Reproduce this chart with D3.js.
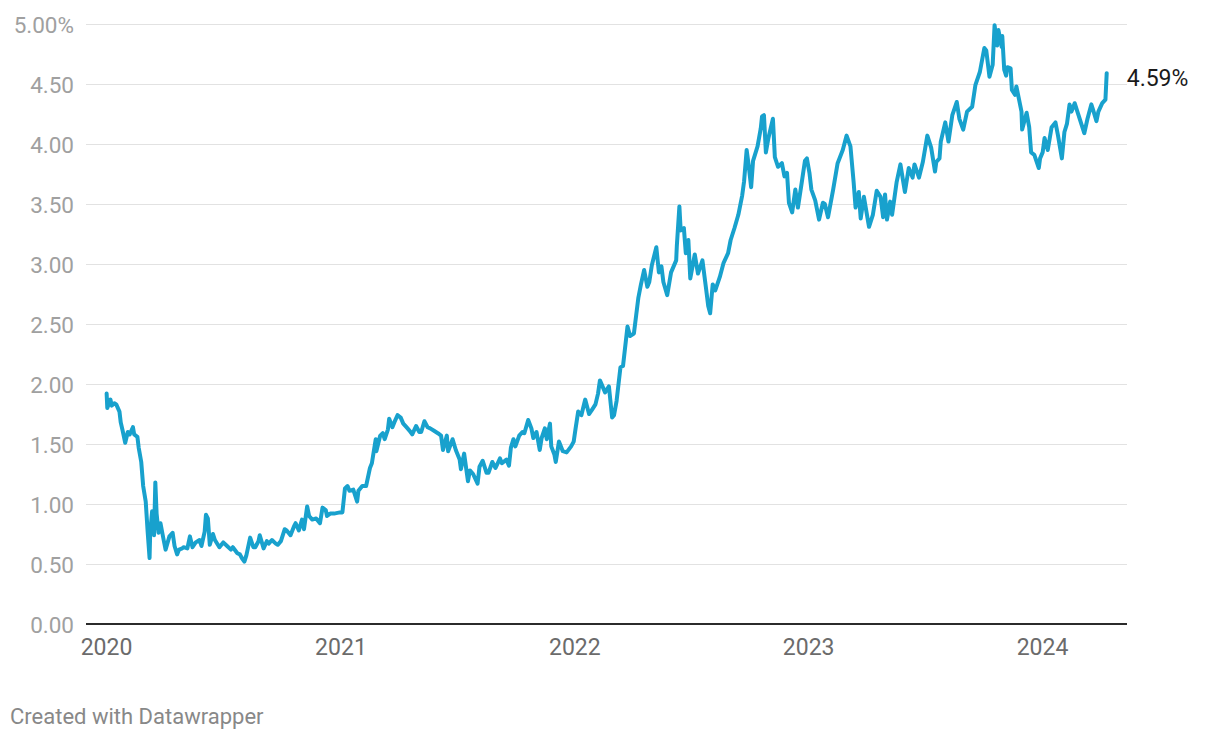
<!DOCTYPE html>
<html><head><meta charset="utf-8">
<script src="https://cdn.jsdelivr.net/npm/d3@7"></script>
<style>
html,body{margin:0;padding:0;background:#fff;}
svg{display:block;font-family:Roboto,"Noto Sans",sans-serif;}
</style></head>
<body><svg id="chart" width="1220" height="740"></svg>
<script>
const dates = [
"2020-01-02","2020-01-03","2020-01-08","2020-01-10","2020-01-14","2020-01-17","2020-01-22","2020-01-24","2020-01-27","2020-01-31",
"2020-02-04","2020-02-07","2020-02-12","2020-02-14","2020-02-19","2020-02-21","2020-02-25","2020-02-28","2020-03-03","2020-03-06",
"2020-03-09","2020-03-10","2020-03-13","2020-03-16","2020-03-18","2020-03-20","2020-03-23","2020-03-26","2020-03-31","2020-04-03",
"2020-04-09","2020-04-14","2020-04-17","2020-04-21","2020-04-24","2020-04-29","2020-05-01","2020-05-07","2020-05-11","2020-05-15",
"2020-05-20","2020-05-26","2020-05-29","2020-06-03","2020-06-05","2020-06-08","2020-06-11","2020-06-16","2020-06-19","2020-06-26",
"2020-07-02","2020-07-08","2020-07-14","2020-07-17","2020-07-24","2020-07-28","2020-07-31","2020-08-04","2020-08-07","2020-08-13",
"2020-08-18","2020-08-21","2020-08-26","2020-08-28","2020-09-03","2020-09-08","2020-09-11","2020-09-16","2020-09-22","2020-09-25",
"2020-09-30","2020-10-06","2020-10-09","2020-10-15","2020-10-21","2020-10-23","2020-10-28","2020-11-02","2020-11-05","2020-11-10",
"2020-11-13","2020-11-18","2020-11-24","2020-11-30","2020-12-04","2020-12-09","2020-12-11","2020-12-16","2020-12-22","2020-12-31",
"2021-01-04","2021-01-08","2021-01-12","2021-01-15","2021-01-21","2021-01-27","2021-01-29","2021-02-04","2021-02-10","2021-02-16",
"2021-02-19","2021-02-25","2021-02-26","2021-03-04","2021-03-08","2021-03-11","2021-03-16","2021-03-18","2021-03-23","2021-03-26",
"2021-03-31","2021-04-05","2021-04-09","2021-04-14","2021-04-19","2021-04-23","2021-04-29","2021-05-04","2021-05-07","2021-05-12",
"2021-05-17","2021-05-21","2021-05-27","2021-06-02","2021-06-07","2021-06-10","2021-06-16","2021-06-18","2021-06-25","2021-06-30",
"2021-07-06","2021-07-08","2021-07-13","2021-07-19","2021-07-22","2021-07-27","2021-08-03","2021-08-06","2021-08-11","2021-08-17",
"2021-08-20","2021-08-26","2021-08-31","2021-09-07","2021-09-10","2021-09-17","2021-09-21","2021-09-24","2021-09-28","2021-10-01",
"2021-10-07","2021-10-12","2021-10-15","2021-10-21","2021-10-26","2021-10-29","2021-11-03","2021-11-08","2021-11-11","2021-11-16",
"2021-11-19","2021-11-24","2021-11-26","2021-12-01","2021-12-03","2021-12-08","2021-12-14","2021-12-20","2021-12-27","2021-12-31",
"2022-01-03","2022-01-07","2022-01-12","2022-01-18","2022-01-24","2022-01-28","2022-02-03","2022-02-07","2022-02-10","2022-02-14",
"2022-02-18","2022-02-24","2022-03-01","2022-03-04","2022-03-08","2022-03-14","2022-03-18","2022-03-25","2022-03-29","2022-04-04",
"2022-04-11","2022-04-15","2022-04-20","2022-04-25","2022-04-28","2022-05-02","2022-05-09","2022-05-13","2022-05-17","2022-05-20",
"2022-05-26","2022-06-01","2022-06-09","2022-06-10","2022-06-14","2022-06-16","2022-06-21","2022-06-24","2022-06-28","2022-07-01",
"2022-07-08","2022-07-13","2022-07-20","2022-07-26","2022-07-29","2022-08-01","2022-08-05","2022-08-09","2022-08-16","2022-08-22",
"2022-08-29","2022-09-02","2022-09-08","2022-09-14","2022-09-20","2022-09-23","2022-09-27","2022-09-30","2022-10-04","2022-10-07",
"2022-10-14","2022-10-19","2022-10-21","2022-10-24","2022-10-27","2022-10-31","2022-11-03","2022-11-07","2022-11-10","2022-11-15",
"2022-11-21","2022-11-25","2022-11-29","2022-12-02","2022-12-07","2022-12-12","2022-12-16","2022-12-22","2022-12-27","2022-12-30",
"2023-01-03","2023-01-06","2023-01-12","2023-01-18","2023-01-24","2023-01-27","2023-02-01","2023-02-09","2023-02-16","2023-02-24",
"2023-03-02","2023-03-08","2023-03-13","2023-03-16","2023-03-21","2023-03-24","2023-03-29","2023-04-06","2023-04-12","2023-04-18",
"2023-04-24","2023-04-28","2023-05-01","2023-05-04","2023-05-09","2023-05-12","2023-05-19","2023-05-25","2023-06-01","2023-06-07",
"2023-06-13","2023-06-16","2023-06-23","2023-06-29","2023-07-06","2023-07-12","2023-07-18","2023-07-20","2023-07-25","2023-07-27",
"2023-08-03","2023-08-08","2023-08-14","2023-08-21","2023-08-25","2023-08-31","2023-09-06","2023-09-14","2023-09-19","2023-09-26",
"2023-10-03","2023-10-06","2023-10-11","2023-10-16","2023-10-19","2023-10-23","2023-10-25","2023-10-30","2023-10-31","2023-11-03",
"2023-11-06","2023-11-08","2023-11-13","2023-11-15","2023-11-20","2023-11-22","2023-11-30","2023-12-01","2023-12-08","2023-12-12",
"2023-12-15","2023-12-20","2023-12-27","2023-12-29",
"2024-01-02","2024-01-05","2024-01-10","2024-01-16","2024-01-22","2024-01-26","2024-02-01","2024-02-05","2024-02-09","2024-02-13",
"2024-02-16","2024-02-21","2024-02-27","2024-03-07","2024-03-12","2024-03-18","2024-03-21","2024-03-26","2024-03-29","2024-04-04",
"2024-04-09","2024-04-11"
];
const yields = [
1.92,1.80,1.87,1.82,1.84,1.83,1.77,1.68,1.61,1.51,
1.60,1.58,1.64,1.58,1.56,1.47,1.35,1.15,1.02,0.77,
0.55,0.76,0.94,0.74,1.18,0.92,0.76,0.84,0.70,0.62,
0.73,0.76,0.65,0.58,0.62,0.63,0.64,0.63,0.73,0.64,
0.68,0.70,0.65,0.77,0.91,0.88,0.66,0.75,0.70,0.64,
0.68,0.65,0.62,0.64,0.59,0.58,0.55,0.52,0.57,0.72,
0.64,0.64,0.69,0.74,0.63,0.69,0.67,0.70,0.67,0.66,
0.69,0.79,0.78,0.74,0.82,0.84,0.78,0.87,0.79,0.98,
0.90,0.87,0.88,0.84,0.97,0.95,0.90,0.92,0.92,0.93,
0.93,1.13,1.15,1.11,1.12,1.02,1.11,1.15,1.15,1.30,
1.34,1.54,1.44,1.57,1.59,1.54,1.62,1.71,1.64,1.68,
1.74,1.72,1.67,1.64,1.61,1.58,1.65,1.60,1.60,1.69,
1.64,1.63,1.61,1.59,1.57,1.45,1.57,1.44,1.54,1.45,
1.37,1.29,1.42,1.19,1.28,1.25,1.17,1.31,1.36,1.26,
1.26,1.35,1.30,1.38,1.34,1.37,1.32,1.47,1.54,1.48,
1.57,1.60,1.59,1.70,1.63,1.55,1.60,1.45,1.55,1.63,
1.54,1.67,1.48,1.41,1.35,1.52,1.44,1.43,1.48,1.52,
1.63,1.77,1.74,1.87,1.75,1.78,1.83,1.92,2.03,1.98,
1.93,1.98,1.72,1.74,1.86,2.14,2.15,2.48,2.40,2.42,
2.72,2.83,2.95,2.81,2.85,2.99,3.14,2.93,2.98,2.85,
2.74,2.93,3.03,3.15,3.48,3.28,3.30,3.09,3.20,2.88,
3.08,2.92,3.03,2.78,2.65,2.59,2.83,2.78,2.89,3.01,
3.09,3.20,3.30,3.41,3.57,3.69,3.95,3.83,3.64,3.86,
3.98,4.13,4.23,4.24,3.93,4.05,4.12,4.21,3.89,3.81,
3.84,3.73,3.76,3.51,3.43,3.62,3.47,3.68,3.86,3.88,
3.76,3.62,3.53,3.37,3.51,3.50,3.39,3.62,3.84,3.95,
4.07,3.98,3.68,3.47,3.60,3.38,3.56,3.31,3.41,3.61,
3.56,3.39,3.58,3.37,3.52,3.41,3.68,3.83,3.60,3.80,
3.72,3.83,3.72,3.85,4.07,3.97,3.77,3.85,3.88,4.02,
4.18,4.02,4.24,4.35,4.21,4.12,4.27,4.31,4.49,4.60,
4.80,4.78,4.56,4.66,4.99,4.82,4.95,4.81,4.90,4.62,
4.57,4.64,4.63,4.45,4.41,4.48,4.27,4.12,4.26,4.14,
3.93,3.91,3.80,3.88,
3.93,4.05,3.95,4.14,4.18,4.07,3.88,4.10,4.17,4.33,
4.27,4.34,4.24,4.09,4.21,4.33,4.28,4.19,4.27,4.34,
4.37,4.59
];
const yTicks = [0,0.5,1,1.5,2,2.5,3,3.5,4,4.5,5];
const xTickYears = ["2020","2021","2022","2023","2024"];
const endLabel = "4.59%";
const footer = "Created with Datawrapper";

const parse = d3.timeParse("%Y-%m-%d");
const data = dates.map((d,i)=>({date:parse(d), value:yields[i]}));

const svg = d3.select("#chart");
const left = 86, right = 1127;
const x = d3.scaleTime()
  .domain([parse("2020-01-01"), parse("2024-01-01")])
  .range([106, 1042]);
const y = d3.scaleLinear().domain([0,5]).range([624,24]);

// y axis with gridlines
const yAxis = d3.axisLeft(y)
  .tickValues(yTicks)
  .tickSize(-(right-left))
  .tickPadding(12)
  .tickFormat(d=> d3.format(".2f")(d) + (d===5 ? "%" : ""));
const gy = svg.append("g").attr("transform",`translate(${left},0)`).call(yAxis);
gy.select(".domain").remove();
gy.selectAll(".tick line").attr("stroke","#e2e2e2").attr("stroke-width",1);
gy.selectAll(".tick text").attr("fill","#a0a0a0").style("font-size","22.5px")
  .style("font-family","Roboto").attr("dy","0.36em");

// x axis
const xAxis = d3.axisBottom(x)
  .tickValues(xTickYears.map(s=>parse(s+"-01-01")))
  .tickSize(0).tickPadding(15)
  .tickFormat(d3.timeFormat("%Y"));
const gx = svg.append("g").attr("transform",`translate(0,${y(0)})`).call(xAxis);
gx.select(".domain").remove();
gx.selectAll(".tick text").attr("fill","#6b6b6b").style("font-size","23px")
  .style("font-family","Roboto");

// baseline
svg.append("line").attr("x1",left).attr("x2",right)
  .attr("y1",y(0)).attr("y2",y(0)).attr("stroke","#2b2b2b").attr("stroke-width",2);

// line
const line = d3.line().x(d=>x(d.date)).y(d=>y(d.value)).curve(d3.curveLinear);
svg.append("path").datum(data).attr("d",line)
  .attr("fill","none").attr("stroke","#18a1cd").attr("stroke-width",4)
  .attr("stroke-linejoin","round").attr("stroke-linecap","round");

// end label
const last = data[data.length-1];
svg.append("text").attr("x",x(last.date)+20).attr("y",y(last.value)+5)
  .attr("dy","0.35em").attr("fill","#1a1a1a").style("font-size","23px")
  .style("font-family","Roboto").text(endLabel);

// footer
svg.append("text").attr("x",10).attr("y",724).attr("fill","#888888")
  .style("font-size","22px").style("font-family","Roboto").text(footer);
</script></body></html>
